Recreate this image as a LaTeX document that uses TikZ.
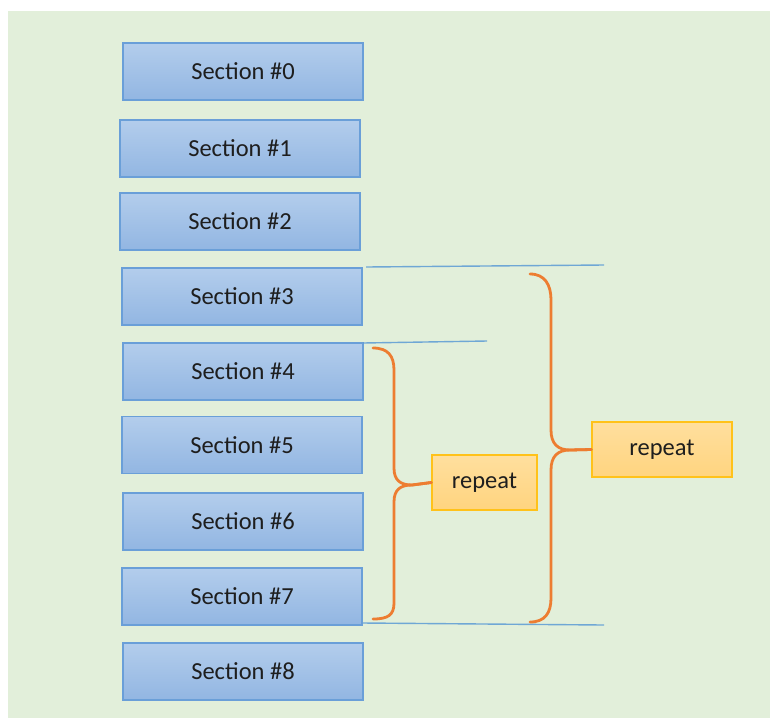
\documentclass[tikz,border=0pt]{standalone}
\usepackage{fontspec}
\setmainfont{Carlito}
\definecolor{bg}{HTML}{E2EFDA}
\definecolor{secTop}{HTML}{B3CDEC}
\definecolor{secBot}{HTML}{92B6E2}
\definecolor{secLine}{HTML}{6A9FD8}
\definecolor{repTop}{HTML}{FFDF9E}
\definecolor{repBot}{HTML}{FFD47F}
\definecolor{repLine}{HTML}{FFC21A}
\definecolor{braceCol}{HTML}{ED7D31}
\definecolor{markLine}{HTML}{5B9BD5}
\definecolor{txt}{HTML}{1E1E1E}
\tikzset{
  secbox/.style={draw=secLine, line width=1.4pt, top color=secTop, bottom color=secBot,
    minimum width=240pt, minimum height=57pt, inner sep=0pt, text=txt,
    font=\fontsize{24.5}{28}\selectfont},
  repbox/.style={draw=repLine, line width=1.4pt, top color=repTop, bottom color=repBot,
    inner sep=0pt, text=txt, font=\fontsize{24.5}{28}\selectfont},
  bracepath/.style={draw=braceCol, line width=2.8pt, line cap=round},
  markpath/.style={draw=markLine, line width=1.4pt, opacity=0.85}
}
\begin{document}
\begin{tikzpicture}[x=1pt,y=-1pt]
\useasboundingbox (0,0) rectangle (770,718);
\fill[bg] (8,11) rectangle (770,718);
\node[secbox] (s0) at (243,71.5) {Section \#0};
\node[secbox] (s1) at (240,148.5) {Section \#1};
\node[secbox] (s2) at (240,221.5) {Section \#2};
\node[secbox] (s3) at (242,296.5) {Section \#3};
\node[secbox] (s4) at (243,371.5) {Section \#4};
\node[secbox] (s5) at (242,445) {Section \#5};
\node[secbox] (s6) at (243,521.5) {Section \#6};
\node[secbox] (s7) at (242,596.5) {Section \#7};
\node[secbox] (s8) at (243,671.5) {Section \#8};
\node[repbox, minimum width=105pt, minimum height=55pt] (r1) at (484.5,482.5) {repeat};
\node[repbox, minimum width=140pt, minimum height=55pt] (r2) at (662,449.5) {repeat};
% marker lines
\coordinate (a1) at (366,267);
\coordinate (a2) at (604,265);
\coordinate (b1) at (363,343);
\coordinate (b2) at (487,341);
\coordinate (c1) at (363,623);
\coordinate (c2) at (604,625);
\draw[markpath] (a1) -- (a2);
\draw[markpath] (b1) -- (b2);
\draw[markpath] (c1) -- (c2);
% small brace
\draw[bracepath] (373,348) .. controls (388,348) and (394,356) .. (394,370)
  -- (394,468) .. controls (394,480) and (400,485) .. (412,485) -- (r1.west);
\draw[bracepath] (r1.west) -- (412,485) .. controls (400,485) and (394,490) .. (394,502)
  -- (394,603) .. controls (394,615) and (388,619) .. (373,619);
% big brace
\draw[bracepath] (530,274) .. controls (545,274) and (551,285) .. (551,300)
  -- (551,430) .. controls (551,444) and (558,450) .. (570,450) -- (r2.west);
\draw[bracepath] (r2.west) -- (570,450) .. controls (558,450) and (551,456) .. (551,470)
  -- (551,598) .. controls (551,613) and (545,622) .. (530,622);
\end{tikzpicture}
\end{document}
